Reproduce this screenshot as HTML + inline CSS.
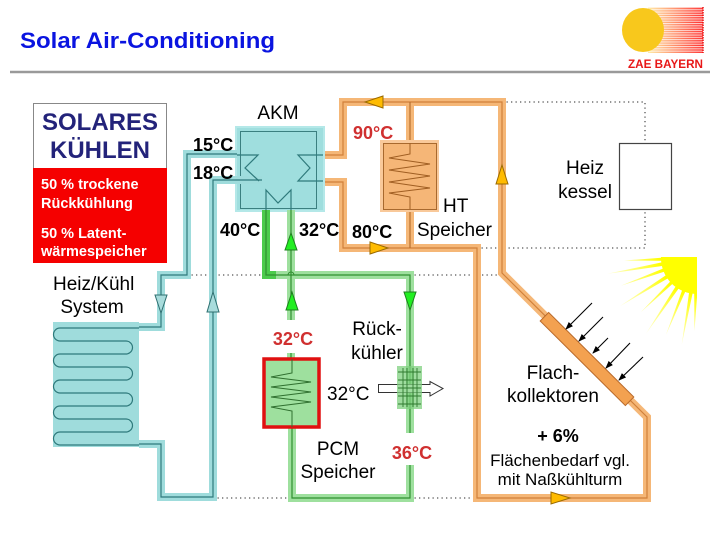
<!DOCTYPE html>
<html><head><meta charset="utf-8">
<style>
html,body{margin:0;padding:0;background:#fff;}
svg{display:block;}
text{font-family:"Liberation Sans",Arial,sans-serif;}
</style></head><body>
<svg width="720" height="540" viewBox="0 0 720 540" xmlns="http://www.w3.org/2000/svg">
<defs>
<linearGradient id="lg" x1="0" x2="1" y1="0" y2="0">
<stop offset="0" stop-color="#ffeaa0"/>
<stop offset="1" stop-color="#ff2a2a"/>
</linearGradient>
<pattern id="st" width="6" height="2.3" patternUnits="userSpaceOnUse"><rect width="6" height="1.1" fill="#fff"/></pattern>
<radialGradient id="sg" cx="697" cy="258" r="92" gradientUnits="userSpaceOnUse">
<stop offset="0.4" stop-color="#ffff00"/>
<stop offset="1" stop-color="#ffff40" stop-opacity="0.25"/>
</radialGradient>
<clipPath id="sc"><rect x="590" y="257" width="107" height="100"/></clipPath>
<marker id="ah" markerWidth="8" markerHeight="8" refX="7" refY="4" orient="auto" markerUnits="userSpaceOnUse">
<path d="M0,1 L8,4 L0,7 Z" fill="#000"/>
</marker>
</defs>

<!-- Header -->
<text x="20" y="48" font-size="22.5" font-weight="bold" fill="#0a14e0" textLength="255" lengthAdjust="spacingAndGlyphs">Solar Air-Conditioning</text>
<line x1="10" y1="72" x2="710" y2="72" stroke="#9a9a9a" stroke-width="2.5"/>
<rect x="648" y="7" width="55" height="46" fill="url(#lg)"/>
<rect x="648" y="7" width="55" height="46" fill="url(#st)" opacity="0.75"/>
<line x1="703" y1="7" x2="703" y2="53" stroke="#ee1111" stroke-width="1.5" stroke-dasharray="1.5 1"/>
<ellipse cx="643" cy="30" rx="21" ry="22" fill="#f8c81c"/>
<text x="628" y="68" font-size="11.5" font-weight="bold" fill="#e81818" textLength="75" lengthAdjust="spacingAndGlyphs">ZAE BAYERN</text>

<!-- Solares Kühlen box -->
<rect x="33.5" y="103.5" width="133" height="65" fill="#fff" stroke="#888" stroke-width="1"/>
<rect x="33" y="168" width="134" height="95" fill="#f50000"/>
<text x="100" y="130" font-size="24" font-weight="bold" fill="#23237a" text-anchor="middle">SOLARES</text>
<text x="100" y="158" font-size="24" font-weight="bold" fill="#23237a" text-anchor="middle">KÜHLEN</text>
<g font-size="14.5" font-weight="bold" fill="#fff">
<text x="41" y="189">50 % trockene</text>
<text x="41" y="208">Rückkühlung</text>
<text x="41" y="238">50 % Latent-</text>
<text x="41" y="256">wärmespeicher</text>
</g>

<!-- Dotted lines -->
<g stroke="#555" stroke-width="1.3" stroke-dasharray="1.3 3.2" fill="none">
<path d="M187,275 H266"/>
<path d="M410,275 H502"/>
<path d="M477,248 H645 V209"/>
<path d="M502,102 H645 V143"/>
<path d="M213,498 H292"/>
<path d="M410,498 H477"/>
</g>
<g stroke="#777" stroke-width="1" fill="none">
<path d="M210,275 a3,3 0 0 1 6,0"/>
<path d="M474,275 a3,3 0 0 1 6,0"/>
<path d="M499,248 a3,3 0 0 1 6,0"/>
</g>

<!-- Sun -->
<g clip-path="url(#sc)" fill="url(#sg)">
<circle cx="697" cy="258" r="36"/>
<g>
<polygon points="697,255 785,258 697,261" transform="rotate(100 697 258)"/>
<polygon points="697,255 780,258 697,261" transform="rotate(112 697 258)"/>
<polygon points="697,255 788,258 697,261" transform="rotate(124 697 258)"/>
<polygon points="697,255 775,258 697,261" transform="rotate(136 697 258)"/>
<polygon points="697,255 788,258 697,261" transform="rotate(148 697 258)"/>
<polygon points="697,255 778,258 697,261" transform="rotate(160 697 258)"/>
<polygon points="697,255 788,258 697,261" transform="rotate(170 697 258)"/>
<polygon points="697,255 770,258 697,261" transform="rotate(178 697 258)"/>
<polygon points="697,255 770,258 697,261" transform="rotate(92 697 258)"/>
</g>
</g>

<!-- Heizkessel -->
<rect x="619.5" y="143.5" width="52" height="66" fill="#fff" stroke="#444" stroke-width="1.2"/>

<!-- Orange pipes -->
<g fill="none" stroke-linejoin="miter">
<path d="M320,155 H343 V102 H502 V273 L647,417 V498 H477 V248 H343 V182 H320" stroke="#f5b777" stroke-width="8"/>
<path d="M410,102 V248" stroke="#f5b777" stroke-width="8"/>
<path d="M320,155 H343 V102 H502 V273 L647,417 V498 H477 V248 H343 V182 H320" stroke="#d0803a" stroke-width="1.2"/>
<path d="M410,102 V248" stroke="#b8702e" stroke-width="1.2"/>
</g>
<!-- HT tank -->
<rect x="380" y="140" width="59" height="72" fill="#f9c99a"/>
<rect x="383.5" y="143.5" width="53" height="66" fill="#f5b677" stroke="#a8692e" stroke-width="1"/>
<path d="M410,143 V154 L389,158 L430,164 L389,170 L430,176 L389,182 L430,188 L389,193 L410,197 V209" fill="none" stroke="#a05e22" stroke-width="1"/>
<!-- collector -->
<g transform="rotate(44.8 587 359)">
<rect x="527" y="353" width="120" height="12" fill="#f3a150" stroke="#b8692a" stroke-width="1"/>
</g>
<!-- collector arrows -->
<g stroke="#000" stroke-width="1.1" marker-end="url(#ah)">
<line x1="592" y1="303" x2="566" y2="329"/>
<line x1="603" y1="317" x2="579" y2="341"/>
<line x1="608" y1="338" x2="593" y2="353"/>
<line x1="630" y1="343" x2="606" y2="368"/>
<line x1="643" y1="357" x2="619" y2="380"/>
</g>

<!-- AKM box -->
<rect x="235" y="126" width="90" height="86" fill="#b4e8e8"/>
<rect x="237" y="128" width="86" height="82" fill="#9fdede"/>
<rect x="240.5" y="131.5" width="76" height="77" fill="none" stroke="#3b7f80" stroke-width="1"/>

<!-- Teal pipes -->
<g fill="none" stroke-linejoin="miter">
<path d="M237,154 H187 V275 H161 V327 H139" stroke="#9fdcdc" stroke-width="8"/>
<path d="M139,444 H161 V497 H213 V180 H262" stroke="#9fdcdc" stroke-width="8"/>
</g>
<rect x="53" y="322" width="86" height="125" fill="#9fdcdc"/>
<g fill="none" stroke="#2f7a7c" stroke-width="1.2">
<path d="M237,154 H187 V275 H161 V327 H139"/>
<path d="M139,444 H161 V497 H213 V180 H262"/>
<path d="M139,328 H60 a6.5,6.5 0 0 0 0,13 H126 a6.5,6.5 0 0 1 0,13 H60 a6.5,6.5 0 0 0 0,13 H126 a6.5,6.5 0 0 1 0,13 H60 a6.5,6.5 0 0 0 0,13 H126 a6.5,6.5 0 0 1 0,13 H60 a6.5,6.5 0 0 0 0,13 H126 a6.5,6.5 0 0 1 0,13 H60 a6.5,6.5 0 0 0 0,13 H139"/>
<!-- chevrons in AKM -->
<path d="M237,155 H258 L245,168 L259,181"/>
<path d="M323,155 H298 L310,168 L298,181 H323"/>
<path d="M266,210 V190 L278,203 L291,190 V210"/>
</g>

<!-- Green pipes -->
<g fill="none" stroke-linejoin="miter">
<path d="M266,275 H410 V433 M410,465 V498 H292 V428" stroke="#9ee09e" stroke-width="8"/>
<path d="M291,210 V320 M291,353 V358" stroke="#9ee09e" stroke-width="8"/>
<path d="M266,210 V275 H276" stroke="#4ccb4c" stroke-width="8"/>
<path d="M266,210 V275 H410 V433 M410,465 V498 H292 V428" stroke="#2f8f2f" stroke-width="1.2"/>
<path d="M291,210 V320 M291,353 V358" stroke="#2f8f2f" stroke-width="1.2"/>
</g>
<path d="M288,275 a3,3 0 0 1 6,0" fill="none" stroke="#2f8f2f" stroke-width="1"/>
<!-- PCM -->
<rect x="264" y="359" width="55" height="68" fill="#9ee09e" stroke="#e01010" stroke-width="3.5"/>
<path d="M292,359 V373 L271,377 L311,382 L271,387 L311,392 L271,397 L311,402 L271,407 L292,411 V427" fill="none" stroke="#2f6f2f" stroke-width="1"/>
<!-- Rückkühler -->
<path d="M378.5,384.5 H430 V381.5 L443,388.5 L430,396 V392.5 H378.5 Z" fill="#fff" stroke="#333" stroke-width="1"/>
<rect x="397" y="366" width="25" height="43" fill="#7fd07f" opacity="0.75"/>
<g stroke="#2f7a2f" stroke-width="0.9">
<line x1="398" y1="372" x2="421" y2="372"/>
<line x1="398" y1="380" x2="421" y2="380"/>
<line x1="398" y1="388" x2="421" y2="388"/>
<line x1="398" y1="396" x2="421" y2="396"/>
<line x1="398" y1="404" x2="421" y2="404"/>
<line x1="403" y1="368" x2="403" y2="407"/>
<line x1="407" y1="368" x2="407" y2="407"/>
<line x1="413" y1="368" x2="413" y2="407"/>
<line x1="417" y1="368" x2="417" y2="407"/>
</g>

<!-- Flow arrows -->
<g stroke-width="1">
<polygon points="155,295 167,295 161,313" fill="#a8dcdc" stroke="#2f6f70"/>
<polygon points="207,312 219,312 213,292" fill="#a8dcdc" stroke="#2f6f70"/>
<polygon points="285,250 297,250 291,233" fill="#22ee22" stroke="#1f7f1f"/>
<polygon points="286,310 298,310 292,292" fill="#22ee22" stroke="#1f7f1f"/>
<polygon points="404,292 416,292 410,310" fill="#22ee22" stroke="#1f7f1f"/>
<polygon points="383,96 383,108 365,102" fill="#ffbb00" stroke="#9a6a00"/>
<polygon points="370,242 370,254 388,248" fill="#ffbb00" stroke="#9a6a00"/>
<polygon points="496,184 508,184 502,165" fill="#ffbb00" stroke="#9a6a00"/>
<polygon points="551,492 551,504 570,498" fill="#ffbb00" stroke="#9a6a00"/>
</g>

<!-- Labels -->
<g font-size="19" fill="#000">
<text x="278" y="119" text-anchor="middle">AKM</text>
<text x="443" y="212">HT</text>
<text x="417" y="236">Speicher</text>
<text x="585" y="174" text-anchor="middle">Heiz</text>
<text x="585" y="198" text-anchor="middle">kessel</text>
<text x="53" y="290">Heiz/Kühl</text>
<text x="92" y="313" text-anchor="middle">System</text>
<text x="377" y="335" text-anchor="middle">Rück-</text>
<text x="377" y="359" text-anchor="middle">kühler</text>
<text x="327" y="400">32°C</text>
<text x="338" y="455" text-anchor="middle">PCM</text>
<text x="338" y="478" text-anchor="middle">Speicher</text>
<text x="553" y="379" text-anchor="middle">Flach-</text>
<text x="553" y="402" text-anchor="middle">kollektoren</text>
</g>
<g font-size="18" font-weight="bold" fill="#000">
<text x="193" y="151">15°C</text>
<text x="193" y="179">18°C</text>
<text x="220" y="236">40°C</text>
<text x="299" y="236">32°C</text>
<text x="352" y="238">80°C</text>
<text x="558" y="442" text-anchor="middle">+ 6%</text>
</g>
<g font-size="18" font-weight="bold" fill="#d03030">
<text x="353" y="139">90°C</text>
<text x="293" y="345" text-anchor="middle">32°C</text>
<text x="412" y="459" text-anchor="middle">36°C</text>
</g>
<g font-size="17" fill="#000">
<text x="560" y="466" text-anchor="middle">Flächenbedarf vgl.</text>
<text x="560" y="485" text-anchor="middle">mit Naßkühlturm</text>
</g>
</svg>
</body></html>
